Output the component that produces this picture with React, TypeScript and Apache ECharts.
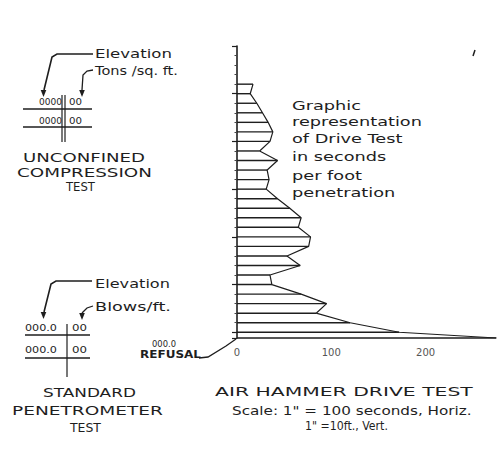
import React, { useEffect, useRef } from "react";
import * as echarts from "echarts";

// Depth below top of drive (ft) and drive time (seconds per foot)
const depthFt = [4, 5, 6, 7, 8, 9, 10, 11, 12, 13, 14, 15, 16, 17, 18, 19, 20, 21, 22, 23, 24, 25, 26, 27, 28, 29, 30];
const secondsPerFoot = [17, 14, 21, 27, 33, 38, 35, 24, 43, 32, 34, 31, 43, 56, 68, 65, 78, 76, 53, 67, 35, 37, 68, 95, 84, 120, 172];
const refusalDepthFt = 30.6;
const refusalSeconds = 275;
const xTickLabels = [0, 100, 200];

const graphicTextLines = ["Graphic", "representation", "of Drive Test", "in seconds", "per foot", "penetration"];

const FONT = "DejaVu Sans";
const INK = "#1e1e1e";

export default function App() {
  const ref = useRef<HTMLDivElement>(null);

  useEffect(() => {
    const chart = echarts.init(ref.current!, undefined, { renderer: "svg" });
    const canvas = document.createElement("canvas");
    const ctx = canvas.getContext("2d")!;
    const measure = (t: string, size: number, weight: string) => {
      ctx.font = `${weight} ${size}px "${FONT}"`;
      return ctx.measureText(t).width || 1;
    };
    const fit = (text: string, x: number, y: number, w: number, size: number, weight = "normal", scale?: number) => ({
      type: "text",
      x,
      y,
      scaleX: scale ?? w / measure(text, size, weight),
      style: {
        text,
        fontSize: size,
        fontFamily: FONT,
        fontWeight: weight,
        fill: INK,
        align: "left",
        verticalAlign: "middle",
      },
    });
    const pl = (pts: number[][], w = 1.3) => ({
      type: "polyline",
      shape: { points: pts },
      style: { stroke: INK, lineWidth: w, fill: "none" },
    });
    const arrow = (x: number, y: number) => ({
      type: "polygon",
      shape: { points: [[x - 2.8, y - 7], [x + 2.8, y - 7], [x, y]] },
      style: { fill: INK },
    });

    const repScale = 130 / measure("representation", 13, "normal");
    const gY = [106, 122, 139, 157, 176, 193];

    const profile = depthFt.map((d, i) => [secondsPerFoot[i], d]);
    profile.push([refusalSeconds, refusalDepthFt]);

    const graphic: any[] = [
      // Unconfined compression test key
      fit("Elevation", 95, 54, 77, 12),
      fit("Tons /sq. ft.", 95, 71, 83, 12),
      pl([[93, 54], [57, 54], [52, 57], [44, 90]], 1.6),
      arrow(43.5, 97),
      pl([[93, 70], [87, 71], [83, 75], [82, 90]]),
      arrow(82, 97),
      fit("0000", 39, 102, 23, 9),
      fit("00", 69, 102, 13, 9),
      fit("0000", 39, 121, 23, 9),
      fit("00", 69, 121, 13, 9),
      pl([[23, 109], [92, 109]], 1.6),
      pl([[23, 127], [92, 127]], 1.6),
      pl([[62, 95], [62, 142]], 1.2),
      pl([[65, 95], [65, 142]], 1.2),
      fit("UNCONFINED", 23, 157, 122, 13),
      fit("COMPRESSION", 17, 172, 135, 13),
      fit("TEST", 66, 187, 29, 13),
      // Standard penetrometer test key
      fit("Elevation", 95, 284, 75, 12),
      fit("Blows/ft.", 95, 307, 76, 12),
      pl([[92, 281], [56, 281], [51, 284], [44, 312]], 1.6),
      arrow(43.5, 319),
      pl([[93, 306], [87, 308], [83, 312], [82, 313]]),
      arrow(82, 320),
      fit("000.0", 25, 328, 32, 9),
      fit("00", 72, 328, 15, 9),
      fit("000.0", 25, 350, 32, 9),
      fit("00", 72, 350, 15, 9),
      pl([[25, 335], [90, 335]], 1.5),
      pl([[25, 358], [90, 358]], 1.5),
      pl([[67, 324], [67, 377]], 1.2),
      fit("STANDARD", 43, 393, 93, 13),
      fit("PENETROMETER", 12, 411, 151, 13),
      fit("TEST", 70, 427, 31, 13),
      // refusal note
      fit("000.0", 152, 344, 24, 9),
      fit("REFUSAL", 140, 355, 61, 10, "bold"),
      pl([[199, 358], [208, 357], [226, 346], [236, 339]], 1.3),
      // annotation
      ...graphicTextLines.map((t, i) => fit(t, 292, gY[i], 0, 13, "normal", repScale)),
      // titles
      fit("AIR HAMMER DRIVE TEST", 215, 392, 258, 12),
      fit('Scale: 1" = 100 seconds, Horiz.', 232, 411, 240, 12),
      fit('1" =10ft., Vert.', 305, 426, 83, 12),
      // speck
      pl([[475, 50], [473, 56]], 1.5),
    ];

    chart.setOption({
      animation: false,
      backgroundColor: "#ffffff",
      grid: { left: 237, top: 46, width: 266, height: 292 },
      xAxis: {
        type: "value",
        min: 0,
        max: 280,
        interval: 100,
        axisLine: { show: false },
        axisTick: { show: false },
        splitLine: { show: false },
        axisLabel: {
          margin: 9,
          fontSize: 10,
          fontFamily: FONT,
          color: "#555",
          formatter: (v: number) => (xTickLabels.includes(v) ? String(v) : ""),
        },
      },
      yAxis: {
        type: "value",
        inverse: true,
        min: 0,
        max: refusalDepthFt,
        interval: 5,
        axisLine: { show: true, lineStyle: { color: INK, width: 1.6 } },
        axisTick: { show: true, length: 5, lineStyle: { color: INK, width: 1.2 } },
        minorTick: { show: true, splitNumber: 5, length: 2.5, lineStyle: { color: "#444", width: 1 } },
        axisLabel: { show: false },
        splitLine: { show: false },
      },
      graphic,
      series: [
        {
          type: "custom",
          clip: false,
          encode: { x: 0, y: 1 },
          data: profile,
          renderItem: (params: any, api: any) => {
            const v = api.value(0);
            const d = api.value(1);
            const p0 = api.coord([0, d]);
            const p1 = api.coord([v, d]);
            return {
              type: "line",
              shape: { x1: p0[0], y1: p0[1], x2: p1[0], y2: p1[1] },
              style: { stroke: INK, lineWidth: 1.4 },
            };
          },
        },
        {
          type: "line",
          data: profile,
          showSymbol: false,
          symbol: "none",
          lineStyle: { color: INK, width: 1.2 },
        },
      ],
    });
    return () => chart.dispose();
  }, []);

  return (
    <div
      ref={ref}
      style={{ position: "fixed", left: 0, top: 0, width: 504, height: 456, background: "#fff" }}
    />
  );
}
